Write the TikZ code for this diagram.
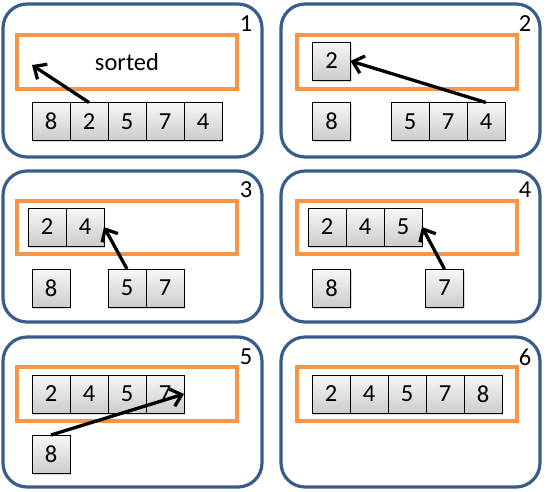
\documentclass[tikz,border=0pt]{standalone}
\usepackage{fontspec}
\setmainfont{Carlito}
\usetikzlibrary{positioning,arrows.meta,shadows}
\definecolor{panelblue}{RGB}{56,93,138}
\definecolor{sortorange}{RGB}{247,150,70}
\begin{document}
\begin{tikzpicture}[x=1pt, y=-1pt,
    panel/.style={draw=panelblue, line width=3.2pt, rounded corners=24pt},
    sortbox/.style={draw=sortorange, line width=3.2pt},
    cell/.style={draw, line width=0.7pt, minimum width=38pt, minimum height=38pt,
        inner sep=0pt, outer sep=0pt, top color=gray!6, bottom color=gray!40,
        drop shadow={shadow xshift=1.2pt, shadow yshift=-1.5pt, opacity=0.3},
        font=\fontsize{24.5}{26}\selectfont},
    num/.style={font=\fontsize{24.5}{26}\selectfont},
    move/.style={line width=3.3pt, -{Straight Barb[length=10pt, width=18pt]}}]
    \useasboundingbox (0,0) rectangle (546,491);

    % 外框与排序区
    \draw[panel] (3,4) rectangle (262,157);
    \draw[panel] (281,4) rectangle (540,157);
    \draw[panel] (3,171) rectangle (262,322);
    \draw[panel] (281,171) rectangle (540,322);
    \draw[panel] (3,337) rectangle (262,487);
    \draw[panel] (281,337) rectangle (540,487);
    \draw[sortbox] (17,35) rectangle (237,89);
    \draw[sortbox] (297,35) rectangle (517,89);
    \draw[sortbox] (17,201) rectangle (237,254);
    \draw[sortbox] (297,201) rectangle (517,254);
    \draw[sortbox] (17,367) rectangle (237,421);
    \draw[sortbox] (297,367) rectangle (517,421);

    % 步骤编号
    \node[num] (n1) at (246,24) {1};
    \node[num] (n2) at (525,24) {2};
    \node[num] (n3) at (246,190) {3};
    \node[num] (n4) at (525,190) {4};
    \node[num] (n5) at (246,357) {5};
    \node[num] (n6) at (525,357) {6};

    % 第1步
    \node[num] (sorted) at (127,62) {sorted};
    \coordinate (s1) at (32,65);
    \node[cell] (a8) at (51,121.5) {8};
    \node[cell, right=0pt of a8] (a2) {2};
    \node[cell, right=0pt of a2] (a5) {5};
    \node[cell, right=0pt of a5] (a7) {7};
    \node[cell, right=0pt of a7] (a4) {4};
    \draw[move] (a2.north) -- (s1);

    % 第2步
    \node[cell] (b2) at (331.5,61) {2};
    \node[cell] (b8) at (331.5,121.5) {8};
    \node[cell] (b5) at (410,121.5) {5};
    \node[cell, right=0pt of b5] (b7) {7};
    \node[cell, right=0pt of b7] (b4) {4};
    \draw[move] (b4.north) -- (b2.east);

    % 第3步
    \node[cell] (c2) at (47,227) {2};
    \node[cell, right=0pt of c2] (c4) {4};
    \node[cell] (c8) at (51,288) {8};
    \node[cell] (c5) at (127,288) {5};
    \node[cell, right=0pt of c5] (c7) {7};
    \draw[move] (c5.north) -- (c4.east);

    % 第4步
    \node[cell] (d2) at (327,227) {2};
    \node[cell, right=0pt of d2] (d4) {4};
    \node[cell, right=0pt of d4] (d5) {5};
    \node[cell] (d8) at (331.5,288) {8};
    \node[cell] (d7) at (444.5,288) {7};
    \draw[move] (d7.north) -- (d5.east);

    % 第5步
    \node[cell] (e2) at (51,394) {2};
    \node[cell, right=0pt of e2] (e4) {4};
    \node[cell, right=0pt of e4] (e5) {5};
    \node[cell, right=0pt of e5] (e7) {7};
    \node[cell] (e8) at (51,454) {8};
    \draw[move] (e8.north) -- (e7.east);

    % 第6步
    \node[cell] (f2) at (331,394) {2};
    \node[cell, right=0pt of f2] (f4) {4};
    \node[cell, right=0pt of f4] (f5) {5};
    \node[cell, right=0pt of f5] (f7) {7};
    \node[cell, right=0pt of f7] (f8) {8};
\end{tikzpicture}
\end{document}
